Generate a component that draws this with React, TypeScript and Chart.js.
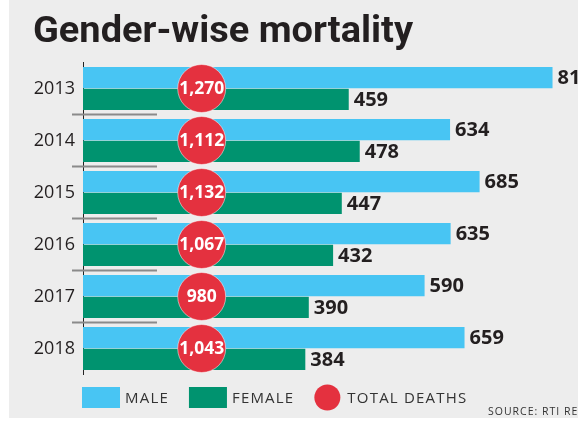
import React, { useEffect, useRef } from "react";
import { Chart, registerables } from "chart.js";

Chart.register(...registerables);

const YEARS = ["2013", "2014", "2015", "2016", "2017", "2018"];
const MALE = [811, 634, 685, 635, 590, 659];
const FEMALE = [459, 478, 447, 432, 390, 384];
const TOTAL = [1270, 1112, 1132, 1067, 980, 1043];
const SERIES_NAMES = ["MALE", "FEMALE", "TOTAL DEATHS"];
const TITLE = "Gender-wise mortality";
const SOURCE = "SOURCE: RTI REPLY";

const X_MAX = 855;
const TOTAL_MARKER_X = 205;

const BG = "#ededed";
const BLUE = "#48c5f3";
const GREEN = "#00936f";
const RED = "#e4313f";
const INK = "#231f20";

const fmt = new Intl.NumberFormat("en-US");

const decor = {
  id: "decor",
  afterDatasetsDraw(chart: any) {
    const ctx: CanvasRenderingContext2D = chart.ctx;
    const area = chart.chartArea;
    const yScale = chart.scales.y;
    ctx.save();
    // separators between years
    ctx.strokeStyle = "#8a8a8a";
    ctx.lineWidth = 2;
    for (let i = 0; i < YEARS.length - 1; i++) {
      const y = (yScale.getPixelForValue(i) + yScale.getPixelForValue(i + 1)) / 2;
      ctx.beginPath();
      ctx.moveTo(area.left - 11, y);
      ctx.lineTo(area.left + 74, y);
      ctx.stroke();
    }
    // bar value labels
    ctx.font = 'bold 20px "Open Sans"';
    ctx.fillStyle = INK;
    ctx.textBaseline = "middle";
    ctx.textAlign = "left";
    [1, 2].forEach((di) => {
      const meta = chart.getDatasetMeta(di);
      meta.data.forEach((bar: any, i: number) => {
        ctx.fillText(fmt.format(chart.data.datasets[di].data[i]), bar.x + 5, bar.y + 1);
      });
    });
    // total labels inside circles
    const m0 = chart.getDatasetMeta(0);
    ctx.font = 'bold 17.5px "Open Sans"';
    ctx.fillStyle = "#ffffff";
    ctx.textAlign = "center";
    m0.data.forEach((pt: any, i: number) => {
      ctx.fillText(fmt.format(TOTAL[i]), pt.x, pt.y + 1);
    });
    ctx.restore();
  },
  afterDraw(chart: any) {
    const ctx: CanvasRenderingContext2D = chart.ctx;
    const area = chart.chartArea;
    ctx.save();
    // title
    ctx.font = "bold 36px Roboto";
    ctx.fillStyle = INK;
    ctx.textBaseline = "alphabetic";
    ctx.textAlign = "left";
    const tw = ctx.measureText(TITLE).width;
    const sx = 380 / tw;
    ctx.save();
    ctx.translate(24, 41.5);
    ctx.scale(sx, 1);
    ctx.fillText(TITLE, 0, 0);
    ctx.restore();

    // legend
    const ly = 397.5;
    let x = area.left - 1;
    ctx.font = '15px "Open Sans"';
    (ctx as any).letterSpacing = "1.2px";
    ctx.textBaseline = "middle";
    ctx.fillStyle = BLUE;
    ctx.fillRect(x, ly - 10.5, 38, 21);
    x += 43;
    ctx.fillStyle = "#333";
    ctx.fillText(SERIES_NAMES[0], x, ly + 1);
    x += ctx.measureText(SERIES_NAMES[0]).width + 20;
    ctx.fillStyle = GREEN;
    ctx.fillRect(x, ly - 10.5, 38, 21);
    x += 43;
    ctx.fillStyle = "#333";
    ctx.fillText(SERIES_NAMES[1], x, ly + 1);
    x += ctx.measureText(SERIES_NAMES[1]).width + 20;
    ctx.fillStyle = RED;
    ctx.beginPath();
    ctx.arc(x + 13, ly, 13, 0, Math.PI * 2);
    ctx.fill();
    x += 33;
    ctx.fillStyle = "#333";
    ctx.fillText(SERIES_NAMES[2], x, ly + 1);

    // source
    ctx.font = '10.5px "Open Sans"';
    (ctx as any).letterSpacing = "1px";
    ctx.fillStyle = "#333";
    ctx.fillText(SOURCE, 479, 412);
    ctx.restore();
  },
};

export default function App() {
  const ref = useRef<HTMLCanvasElement>(null);

  useEffect(() => {
    if (!ref.current) return;
    const chart = new Chart(ref.current, {
      type: "bar",
      data: {
        labels: YEARS,
        datasets: [
          {
            type: "line",
            label: SERIES_NAMES[2],
            data: TOTAL.map((t, i) => ({ x: TOTAL_MARKER_X, y: YEARS[i], total: t })),
            showLine: false,
            pointRadius: 24,
            pointHoverRadius: 24,
            pointBackgroundColor: RED,
            pointBorderColor: "rgba(255,255,255,0.5)",
            pointBorderWidth: 1,
            clip: false,
            order: 0,
          } as any,
          {
            label: SERIES_NAMES[0],
            data: MALE,
            backgroundColor: BLUE,
            categoryPercentage: 0.84,
            barPercentage: 0.97,
            order: 1,
          },
          {
            label: SERIES_NAMES[1],
            data: FEMALE,
            backgroundColor: GREEN,
            categoryPercentage: 0.84,
            barPercentage: 0.97,
            order: 1,
          },
        ],
      },
      options: {
        indexAxis: "y",
        animation: false,
        responsive: true,
        maintainAspectRatio: false,
        events: [],
        layout: { autoPadding: false, padding: { top: 62.5, bottom: 43.5, left: 0, right: 0 } },
        plugins: {
          legend: { display: false },
          tooltip: { enabled: false },
          title: { display: false },
        },
        scales: {
          x: { type: "linear", min: 0, max: X_MAX, display: false },
          y: {
            type: "category",
            offset: true,
            grid: { display: false, drawTicks: false },
            border: { display: true, color: "#222", width: 1 },
            ticks: {
              color: INK,
              padding: 8,
              font: { family: '"Open Sans"', size: 18 },
            },
            afterFit: (scale: any) => {
              scale.width = 74;
            },
          },
        },
      },
      plugins: [decor],
    });
    return () => chart.destroy();
  }, []);

  return (
    <div
      style={{
        position: "absolute",
        left: 9,
        top: 0,
        width: 569,
        height: 418,
        background: BG,
      }}
    >
      <canvas ref={ref} />
    </div>
  );
}
